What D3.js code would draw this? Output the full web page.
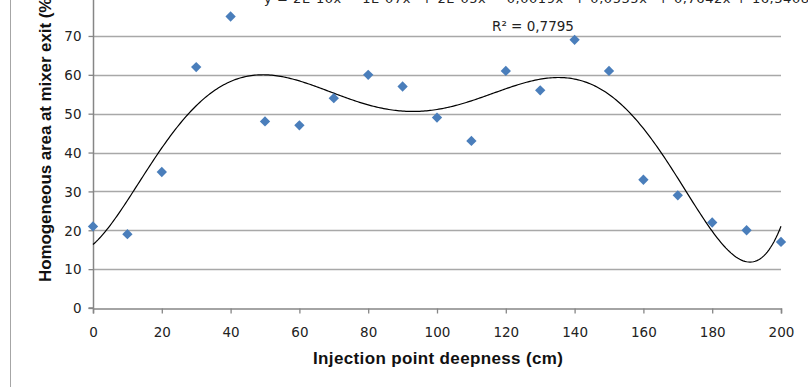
<!DOCTYPE html>
<html><head><meta charset="utf-8">
<script src="https://cdn.jsdelivr.net/npm/d3@7"></script>
<style>
html,body{margin:0;padding:0;background:#fff;}
svg{display:block;}
.tick text{font-family:"DejaVu Sans",Verdana,sans-serif;font-size:13.5px;fill:#222;}
.title{font-family:"Liberation Sans Narrow","Liberation Sans",sans-serif;font-weight:bold;font-size:17px;fill:#111;}
</style>
</head><body>
<script>
const depth = [0,10,20,30,40,50,60,70,80,90,100,110,120,130,140,150,160,170,180,190,200];
const homog = [21,19,35,62,75,48,47,54,60,57,49,43,61,56,69,61,33,29,22,20,17];
const xTicks = [0,20,40,60,80,100,120,140,160,180,200];
const yTicks = [0,10,20,30,40,50,60,70];
const xTitle = "Injection point deepness (cm)";
const yTitle = "Homogeneous area at mixer exit (%)";
const r2Label = "R² = 0,7795";

const W = 808, H = 387;
const svg = d3.select("body").append("svg").attr("width", W).attr("height", H);

const x = d3.scaleLinear().domain([0,200]).range([93,781]);
const y = d3.scaleLinear().domain([0,80]).range([308,-2.9]);

// border line at left
svg.append("line").attr("x1",10.5).attr("x2",10.5).attr("y1",0).attr("y2",H)
  .attr("stroke","#a6a6a6").attr("stroke-width",1);

// gridlines
svg.append("g").selectAll("line").data(yTicks.filter(d=>d>0)).join("line")
  .attr("x1",x(0)).attr("x2",x(200))
  .attr("y1",d=>Math.round(y(d))+0.5).attr("y2",d=>Math.round(y(d))+0.5)
  .attr("stroke","#a8a8a8").attr("stroke-width",1.3);

// axes
const xa = svg.append("g").attr("transform",`translate(0,${Math.round(y(0))+0.5})`)
  .call(d3.axisBottom(x).tickValues(xTicks).tickSize(5).tickPadding(14).tickFormat(d3.format("d")));
const ya = svg.append("g").attr("transform",`translate(${Math.round(x(0))+0.5},0)`)
  .call(d3.axisLeft(y).tickValues(yTicks).tickSize(5).tickPadding(7).tickFormat(d3.format("d")));
[xa,ya].forEach(g=>{
  g.select(".domain").attr("stroke","#868686").attr("stroke-width",1.5);
  g.selectAll(".tick line").attr("stroke","#868686").attr("stroke-width",1.3);
});
ya.selectAll(".tick text").attr("dy","0.35em");
ya.select(".domain").attr("d",`M-5,${y(0)}H0V${y(80)}`);

// polynomial fit (order 6) - Excel-style trendline
function polyfit(xs, ys, deg){
  const n = deg+1;
  const A = Array.from({length:n},()=>new Array(n+1).fill(0));
  xs.forEach((xv,i)=>{
    const u = xv/100;
    for(let r=0;r<n;r++){
      for(let c=0;c<n;c++) A[r][c]+=Math.pow(u,r+c);
      A[r][n]+=ys[i]*Math.pow(u,r);
    }
  });
  for(let c=0;c<n;c++){
    let p=c; for(let r=c+1;r<n;r++) if(Math.abs(A[r][c])>Math.abs(A[p][c])) p=r;
    [A[c],A[p]]=[A[p],A[c]];
    for(let r=0;r<n;r++){ if(r===c) continue; const f=A[r][c]/A[c][c];
      for(let k=c;k<=n;k++) A[r][k]-=f*A[c][k]; }
  }
  return A.map((row,i)=>row[n]/row[i]);
}
const cu = polyfit(depth, homog, 6);
const coef = cu.map((c,i)=>c/Math.pow(100,i));
const f = xv => coef.reduce((s,c,i)=>s+c*Math.pow(xv,i),0);
const curveX = d3.range(0,200.01,0.5);
svg.append("path").datum(curveX)
  .attr("d", d3.line().x(d=>x(d)).y(d=>y(f(d))).curve(d3.curveLinear))
  .attr("fill","none").attr("stroke","#000").attr("stroke-width",1.2);

// markers
svg.append("g").selectAll("path").data(depth.map((d,i)=>[d,homog[i]])).join("path")
  .attr("d", d3.symbol().type(d3.symbolDiamond2).size(68))
  .attr("transform",d=>`translate(${x(d[0])},${y(d[1])})`)
  .attr("fill","#4a7ebb");

// equation (mostly clipped at top, as in the reference)
function fmt(c){
  const a=Math.abs(c);
  if(a<0.0001) return c.toExponential(0).replace("e","E").replace(/E-(\d)$/,"E-0$1");
  return c.toFixed(4).replace(".",",");
}
const sup=["","","²","³","⁴","⁵","⁶"];
let eq="y = "+fmt(coef[6])+"x⁶";
for(let i=5;i>=0;i--){
  const c=coef[i]; const sgn=c<0?" - ":" + ";
  eq+=sgn+fmt(Math.abs(c))+(i>1?"x"+sup[i]:(i===1?"x":""));
}
svg.append("text").attr("x",264).attr("y",3)
  .style("font-family","DejaVu Sans,Verdana,sans-serif").style("font-size","13px").style("fill","#222")
  .attr("textLength",545).text(eq);

svg.append("text").attr("x",492).attr("y",31)
  .style("font-family","DejaVu Sans,Verdana,sans-serif").style("font-size","13.5px").style("fill","#222")
  .text(r2Label);

// titles
svg.append("text").attr("class","title").attr("x",438).attr("y",364)
  .attr("text-anchor","middle").attr("textLength",250).text(xTitle);
svg.append("text").attr("class","title")
  .attr("transform","translate(51,282) rotate(-90)")
  .attr("text-anchor","start").attr("textLength",290).text(yTitle);
</script>
</body></html>
